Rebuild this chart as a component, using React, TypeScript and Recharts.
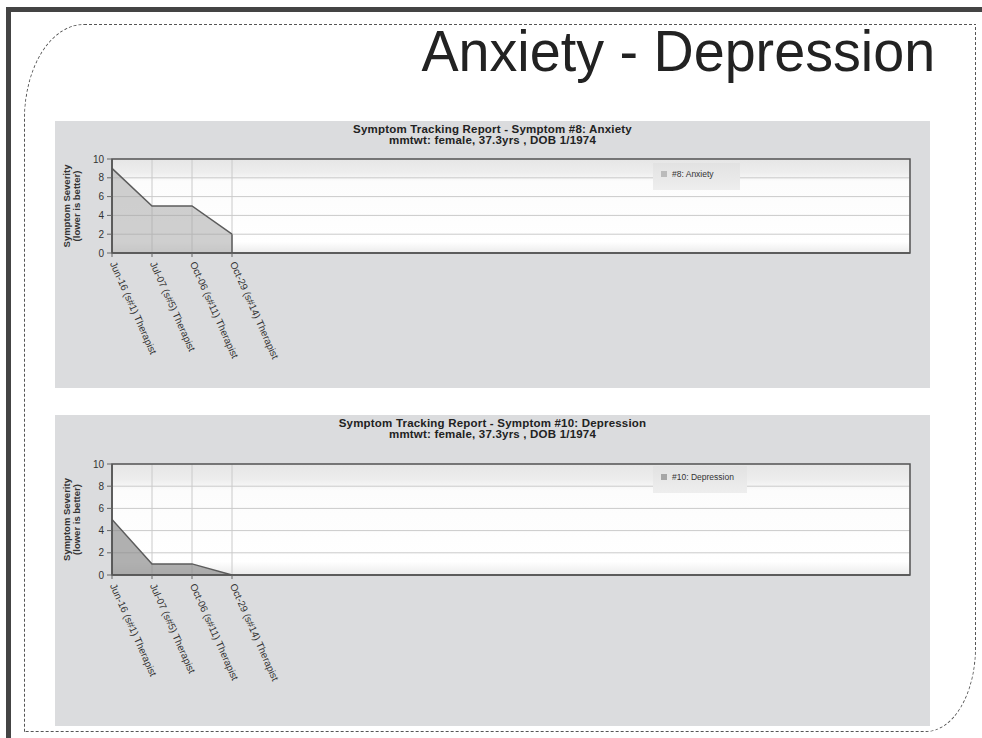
import React from "react"
import {
  AreaChart,
  Area,
  XAxis,
  YAxis,
  CartesianGrid,
  Legend,
  ReferenceArea,
  ReferenceLine,
} from "recharts"

// ------------------------------------------------------------
// Data
// ------------------------------------------------------------

const sessionLabels = [
  "Jun-16 (s#1) Therapist",
  "Jul-07 (s#5) Therapist",
  "Oct-06 (s#11) Therapist",
  "Oct-29 (s#14) Therapist",
]
const anxietyValues = [9, 5, 5, 2]
const depressionValues = [5, 1, 1, 0]
const severityTicks = [0, 2, 4, 6, 8, 10]
const sessionTicks = [0, 1, 2, 3]

// the x axis leaves room for ~20 sessions, only 4 are filled
const X_MAX = 19.95
const FONT = "'Liberation Sans', Arial, sans-serif"

// ------------------------------------------------------------
// Pieces
// ------------------------------------------------------------

function SessionTick({ x, y, payload }: any) {
  return (
    <g transform={`translate(${x + 1},${y + 3}) rotate(66)`}>
      <text x={0} y={0} dy="0.35em" fontSize={10} fill="#333" fontFamily={FONT} textAnchor="start">
        {sessionLabels[payload.value]}
      </text>
    </g>
  )
}

function SeverityLabel({ viewBox }: any) {
  const cy = viewBox.y + viewBox.height / 2
  const x1 = viewBox.x - 6
  const x2 = viewBox.x + 4
  return (
    <g fontFamily={FONT} fontSize={9.5} fontWeight="bold" fill="#333" textAnchor="middle">
      <text x={x1} y={cy} dominantBaseline="central" transform={`rotate(-90 ${x1} ${cy})`}>
        Symptom Severity
      </text>
      <text x={x2} y={cy} dominantBaseline="central" transform={`rotate(-90 ${x2} ${cy})`}>
        (lower is better)
      </text>
    </g>
  )
}

interface SymptomChartProps {
  id: string
  title: string
  subtitle: string
  legendLabel: string
  values: number[]
  top: number
  height: number
  plotTop: number
  plotBottom: number
  fill: string
  fillOpacity: number
  legendTop: number
  legendWidth: number
}

function SymptomChart(p: SymptomChartProps) {
  const data = sessionLabels.map((label, i) => ({ idx: i, label, value: p.values[i] }))
  const last = data.length - 1
  const bottomSpace = p.height - p.plotBottom

  return (
    <div
      style={{
        position: "absolute",
        left: 55,
        top: p.top,
        width: 875,
        height: p.height,
        background: "#dbdcde",
      }}
    >
      <div
        style={{
          position: "absolute",
          left: 0,
          right: 0,
          top: 3,
          textAlign: "center",
          fontFamily: FONT,
          fontSize: 11.5,
          fontWeight: "bold",
          lineHeight: "11px",
          letterSpacing: "0.2px",
          color: "#222",
        }}
      >
        <div>{p.title}</div>
        <div>{p.subtitle}</div>
      </div>
      <AreaChart
        width={875}
        height={p.height}
        data={data}
        margin={{ top: p.plotTop, right: 20, left: 17, bottom: 10 }}
      >
        <defs>
          <linearGradient id={`bg-${p.id}`} x1="0" y1="0" x2="0" y2="1">
            <stop offset="0%" stopColor="#e6e6e6" />
            <stop offset="14%" stopColor="#ededed" />
            <stop offset="24%" stopColor="#fcfcfc" />
            <stop offset="88%" stopColor="#ffffff" />
            <stop offset="100%" stopColor="#ebebeb" />
          </linearGradient>
        </defs>
        <CartesianGrid stroke="#cacaca" fill={`url(#bg-${p.id})`} />
        <XAxis
          type="number"
          dataKey="idx"
          domain={[0, X_MAX]}
          ticks={sessionTicks}
          allowDataOverflow
          height={bottomSpace - 10}
          interval={0}
          tick={<SessionTick />}
          axisLine={{ stroke: "#555", strokeWidth: 1.5 }}
          tickLine={{ stroke: "#666" }}
          tickSize={4}
        />
        <YAxis
          type="number"
          domain={[0, 10]}
          ticks={severityTicks}
          interval={0}
          width={40}
          tick={{ fill: "#333", fontSize: 10, fontFamily: FONT }}
          tickMargin={3}
          tickSize={5}
          axisLine={{ stroke: "#555", strokeWidth: 1.5 }}
          tickLine={{ stroke: "#666" }}
          label={<SeverityLabel />}
        />
        <Legend
          layout="horizontal"
          verticalAlign="middle"
          align="center"
          content={() => (
            <div
              style={{
                width: p.legendWidth,
                height: 27,
                background: "linear-gradient(#e2e2e2, #eeeeee)",
                display: "flex",
                alignItems: "flex-start",
                paddingTop: 6,
                boxSizing: "border-box",
                fontFamily: FONT,
                fontSize: 8.5,
                color: "#333",
              }}
            >
              <span
                style={{
                  display: "inline-block",
                  width: 6,
                  height: 6,
                  margin: "2px 5px 0 8px",
                  background: p.fill,
                  opacity: 0.7,
                }}
              />
              {p.legendLabel}
            </div>
          )}
          wrapperStyle={{ left: 598, top: p.legendTop, width: p.legendWidth, bottom: "auto" }}
        />
        <Area
          type="linear"
          dataKey="value"
          stroke="#5c5c5c"
          strokeWidth={1.5}
          fill={p.fill}
          fillOpacity={p.fillOpacity}
          dot={false}
          activeDot={false}
          isAnimationActive={false}
        />
        <ReferenceLine
          segment={[
            { x: last, y: 0 },
            { x: last, y: p.values[last] },
          ]}
          stroke="#5c5c5c"
          strokeWidth={1.5}
        />
        <ReferenceArea
          x1={0}
          x2={X_MAX}
          y1={0}
          y2={10}
          fill="none"
          stroke="#555"
          strokeWidth={1.5}
          ifOverflow="visible"
        />
      </AreaChart>
    </div>
  )
}

// ------------------------------------------------------------
// Slide
// ------------------------------------------------------------

export default function App() {
  return (
    <div
      style={{
        position: "absolute",
        left: 0,
        top: 0,
        width: 982,
        height: 738,
        background: "#ffffff",
        overflow: "hidden",
      }}
    >
      {/* dark slide edges */}
      <div style={{ position: "absolute", left: 6, top: 7, width: 976, height: 5, background: "#444" }} />
      <div style={{ position: "absolute", left: 6, top: 7, width: 5, height: 731, background: "#444" }} />

      {/* dashed frame */}
      <div
        style={{
          position: "absolute",
          left: 24,
          top: 24,
          width: 950,
          height: 706,
          border: "1px dashed #555",
          borderTopLeftRadius: "60px 95px",
          borderBottomRightRadius: "50px 85px",
        }}
      />

      <div
        style={{
          position: "absolute",
          right: 47,
          top: 22,
          fontFamily: FONT,
          fontSize: 58,
          lineHeight: "58px",
          color: "#222",
          whiteSpace: "nowrap",
          transform: "scaleX(0.96)",
          transformOrigin: "right center",
        }}
      >
        Anxiety - Depression
      </div>

      <SymptomChart
        id="anx"
        title="Symptom Tracking Report - Symptom #8: Anxiety"
        subtitle="mmtwt: female, 37.3yrs , DOB 1/1974"
        legendLabel="#8: Anxiety"
        values={anxietyValues}
        top={121}
        height={267}
        plotTop={38}
        plotBottom={132}
        fill="#a8a8a8"
        fillOpacity={0.55}
        legendTop={42}
        legendWidth={87}
      />
      <SymptomChart
        id="dep"
        title="Symptom Tracking Report - Symptom #10: Depression"
        subtitle="mmtwt: female, 37.3yrs , DOB 1/1974"
        legendLabel="#10: Depression"
        values={depressionValues}
        top={415}
        height={311}
        plotTop={49}
        plotBottom={160}
        fill="#8a8a8a"
        fillOpacity={0.68}
        legendTop={51}
        legendWidth={94}
      />
    </div>
  )
}
